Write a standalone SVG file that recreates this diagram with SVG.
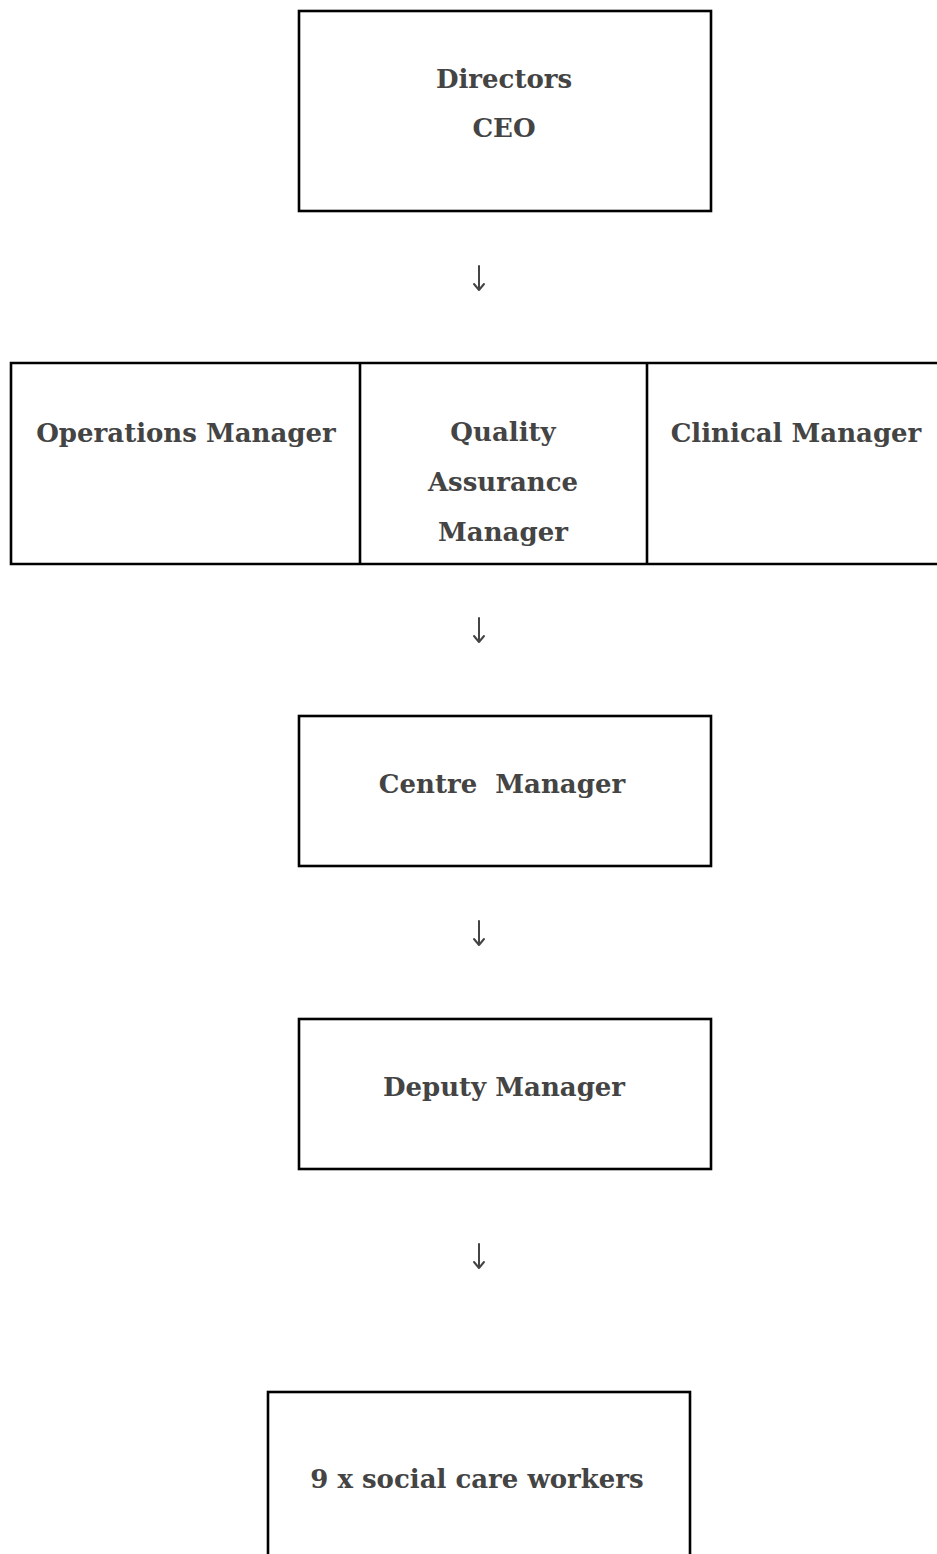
<svg xmlns="http://www.w3.org/2000/svg" width="937" height="1554" viewBox="0 0 937 1554">
  <style>
    .box { fill: #ffffff; stroke: #000000; stroke-width: 2.6; }
    .rule { stroke: #000000; stroke-width: 2.6; fill: none; }
    .lbl { font-family: "DejaVu Serif", "Liberation Serif", serif; font-weight: bold; font-size: 26px; fill: #444444; text-anchor: middle; }
    .arrow { stroke: #444444; stroke-width: 2; fill: none; stroke-linecap: round; stroke-linejoin: round; }
  </style>
  <rect width="937" height="1554" fill="#ffffff"/>

  <g id="node-directors">
    <rect class="box" x="299" y="11" width="412" height="200"/>
    <text class="lbl" x="504" y="88">Directors</text>
    <text class="lbl" x="504" y="137">CEO</text>
  </g>

  <g id="node-managers">
    <path class="rule" d="M937 363 H11 V564 H937 M360 363 V564 M647 363 V564"/>
  </g>
  <g id="node-operations">
    <text class="lbl" x="186" y="442">Operations Manager</text>
  </g>
  <g id="node-quality">
    <text class="lbl" x="503" y="441">Quality</text>
    <text class="lbl" x="503" y="491">Assurance</text>
    <text class="lbl" x="503" y="541">Manager</text>
  </g>
  <g id="node-clinical">
    <text class="lbl" x="796" y="442">Clinical Manager</text>
  </g>

  <g id="node-centre">
    <rect class="box" x="299" y="716" width="412" height="150"/>
    <text class="lbl" x="502" y="793" xml:space="preserve">Centre  Manager</text>
  </g>

  <g id="node-deputy">
    <rect class="box" x="299" y="1019" width="412" height="150"/>
    <text class="lbl" x="504" y="1096">Deputy Manager</text>
  </g>

  <g id="node-workers">
    <rect class="box" x="268" y="1392" width="422" height="180"/>
    <text class="lbl" x="477" y="1488">9 x social care workers</text>
  </g>

  <g id="connectors">
    <path class="arrow" d="M479 266 V290 M474 284 L479 290 L484 284"/>
    <path class="arrow" d="M479 618 V642 M474 636 L479 642 L484 636"/>
    <path class="arrow" d="M479 921 V945 M474 939 L479 945 L484 939"/>
    <path class="arrow" d="M479 1244 V1268 M474 1262 L479 1268 L484 1262"/>
  </g>
</svg>
